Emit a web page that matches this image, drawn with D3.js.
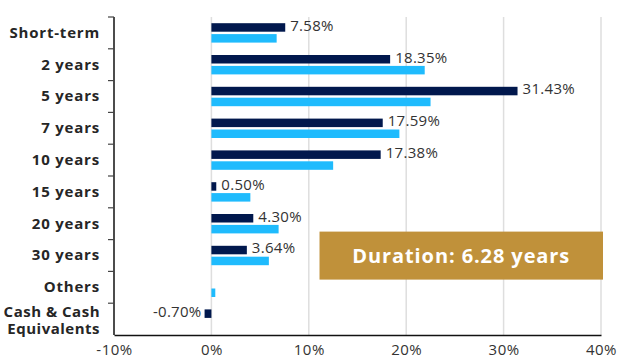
<!DOCTYPE html>
<html>
<head>
<meta charset="utf-8">
<script src="https://cdn.jsdelivr.net/npm/d3@7"></script>
<style>
  body { margin: 0; background: #fff; }
  svg { display: block; font-family: "Open Sans", sans-serif; }
</style>
</head>
<body>
<div id="chart"></div>
<script>
// categories and series
const categories = ['Short-term', '2 years', '5 years', '7 years', '10 years',
  '15 years', '20 years', '30 years', 'Others', 'Cash & Cash Equivalents'];
const fund = [7.58, 18.35, 31.43, 17.59, 17.38, 0.50, 4.30, 3.64, 0, -0.70];
const benchmark = [6.7, 21.9, 22.5, 19.3, 12.5, 4.0, 6.9, 5.9, 0.4, 0];
const xTicks = [-10, 0, 10, 20, 30, 40];
const durationText = 'Duration: 6.28 years';

const W = 618, H = 361;
const margin = {left: 114, right: 17, top: 17, bottom: 26};
const width = W - margin.left - margin.right;
const height = H - margin.top - margin.bottom;

const rows = categories.map((c, i) => ({cat: c, fund: fund[i], bench: benchmark[i]}));

const svg = d3.select('#chart').append('svg')
    .attr('width', W)
    .attr('height', H)
  .append('g')
    .attr('transform', 'translate(' + margin.left + ',' + margin.top + ')');

const x = d3.scaleLinear().domain([-10, 40]).range([0, width]);
const y = d3.scaleBand().domain(categories).range([0, height]);
const bw = y.bandwidth();
const sub = d3.scaleBand().domain(['fund', 'bench'])
    .range([bw * 0.195, bw * 0.805])
    .paddingInner(0.22);

// vertical grid lines
svg.selectAll('.grid')
    .data(xTicks.filter(d => d > -10))
  .enter().append('line')
    .attr('x1', d => x(d)).attr('x2', d => x(d))
    .attr('y1', 0).attr('y2', height)
    .attr('stroke', '#dedede')
    .attr('stroke-width', 1.5);

// bars
const groups = svg.selectAll('.row')
    .data(rows)
  .enter().append('g')
    .attr('transform', d => 'translate(0,' + y(d.cat) + ')');

groups.append('rect')
    .attr('x', d => x(Math.min(0, d.bench)))
    .attr('y', sub('bench'))
    .attr('width', d => Math.abs(x(d.bench) - x(0)))
    .attr('height', sub.bandwidth())
    .attr('fill', '#1fbbfd');

groups.append('rect')
    .attr('x', d => x(Math.min(0, d.fund)))
    .attr('y', sub('fund'))
    .attr('width', d => Math.abs(x(d.fund) - x(0)))
    .attr('height', sub.bandwidth())
    .attr('fill', '#01184d');

// value labels for the fund
groups.filter(d => d.fund !== 0).append('text')
    .attr('x', d => d.fund > 0 ? x(d.fund) + 5 : x(d.fund) - 3)
    .attr('y', sub('fund') + sub.bandwidth() / 2 - 2)
    .attr('dy', '0.35em')
    .attr('text-anchor', d => d.fund > 0 ? 'start' : 'end')
    .attr('font-size', '15px')
    .attr('letter-spacing', '0.3px')
    .attr('fill', '#333')
    .text(d => d.fund.toFixed(2) + '%');

// y axis: line, boundary ticks, category labels
svg.append('line')
    .attr('x1', 0).attr('x2', 0)
    .attr('y1', 0).attr('y2', height)
    .attr('stroke', '#111').attr('stroke-width', 1.5);

svg.selectAll('.ytick')
    .data(categories.map(c => y(c)))
  .enter().append('line')
    .attr('x1', -6).attr('x2', 0)
    .attr('y1', d => d).attr('y2', d => d)
    .attr('stroke', '#444').attr('stroke-width', 1.2);

const yAxis = svg.append('g')
    .call(d3.axisLeft(y).tickSize(0).tickPadding(14));
yAxis.select('.domain').remove();
yAxis.selectAll('text')
    .attr('font-size', '15px')
    .attr('font-weight', 'bold')
    .attr('letter-spacing', '0.8px')
    .attr('font-family', '"Open Sans", sans-serif')
    .attr('fill', '#262626')
    .each(function(d) {
      if (d === 'Cash & Cash Equivalents') {
        const t = d3.select(this).text('').attr('dy', null)
            .attr('letter-spacing', '0.5px');
        t.append('tspan').attr('x', -14).attr('dy', '-1.7').text('Cash & Cash');
        t.append('tspan').attr('x', -14).attr('dy', '16.5').text('Equivalents');
      }
    });

// x axis
const xAxis = svg.append('g')
    .attr('transform', 'translate(0,' + height + ')')
    .call(d3.axisBottom(x).tickValues(xTicks).tickSize(0).tickPadding(9)
      .tickFormat(d => d + '%'));
xAxis.select('.domain').attr('stroke', '#111').attr('stroke-width', 1.5);
xAxis.selectAll('text')
    .attr('font-size', '15px')
    .attr('letter-spacing', '0.5px')
    .attr('font-family', '"Open Sans", sans-serif')
    .attr('fill', '#333');

// duration box
const boxX = x(11.1), boxY = y('30 years') - 8;
svg.append('rect')
    .attr('x', boxX)
    .attr('y', boxY)
    .attr('width', x(40) + 2 - boxX)
    .attr('height', 48)
    .attr('fill', '#c0913a');
svg.append('text')
    .attr('x', (boxX + x(40) + 2) / 2)
    .attr('y', boxY + 24)
    .attr('dy', '0.35em')
    .attr('text-anchor', 'middle')
    .attr('font-size', '20px')
    .attr('font-weight', 'bold')
    .attr('letter-spacing', '0.9px')
    .attr('fill', '#fff')
    .text(durationText);
</script>
</body>
</html>
